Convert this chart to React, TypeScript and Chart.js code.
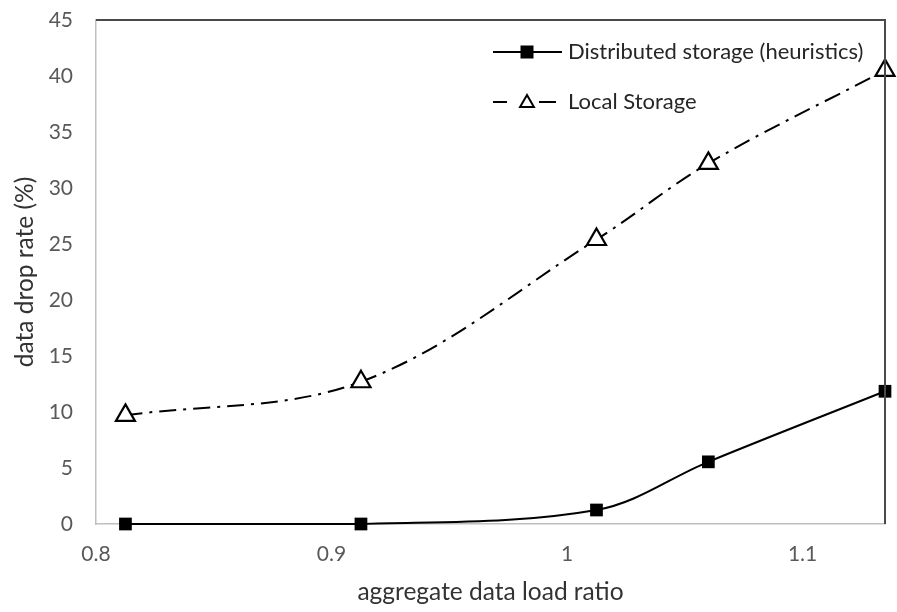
import React, { useEffect, useRef } from "react";
import { Chart, registerables } from "chart.js";

Chart.register(...registerables);

const loadRatio = [0.8125, 0.9125, 1.0125, 1.06, 1.135];
const distributedValues = [0, 0, 1.25, 5.55, 11.85];
const localValues = [9.7, 12.7, 25.4, 32.2, 40.5];
const xTicks = [0.8, 0.9, 1, 1.1];
const seriesNames = ["Distributed storage (heuristics)", "Local Storage"];

const FONT = "Lato, 'Open Sans', sans-serif";
const DASH = [17, 7, 3, 7];

const framePlugin = {
  id: "frame",
  afterDraw(chart: any) {
    const { ctx, chartArea } = chart;
    const { left, right, top, bottom } = chartArea;
    ctx.save();
    // top & right dark border
    ctx.strokeStyle = "#4a4a4a";
    ctx.lineWidth = 2;
    ctx.beginPath();
    ctx.moveTo(left, top);
    ctx.lineTo(right, top);
    ctx.lineTo(right, bottom);
    ctx.stroke();

    // legend
    const x0 = left + 397;
    const items = [
      { y: top + 32, text: seriesNames[0] },
      { y: top + 82, text: seriesNames[1] },
    ];
    ctx.strokeStyle = "#000";
    ctx.lineWidth = 2;
    // item 1: solid line + filled square
    ctx.beginPath();
    ctx.moveTo(x0, items[0].y);
    ctx.lineTo(x0 + 69, items[0].y);
    ctx.stroke();
    ctx.fillStyle = "#000";
    ctx.fillRect(x0 + 34 - 6.5, items[0].y - 6.5, 13, 13);
    // item 2: dash + triangle + dash
    ctx.beginPath();
    ctx.moveTo(x0, items[1].y);
    ctx.lineTo(x0 + 14, items[1].y);
    ctx.moveTo(x0 + 46, items[1].y);
    ctx.lineTo(x0 + 63, items[1].y);
    ctx.stroke();
    const tx = x0 + 34;
    const ty = items[1].y + 1;
    const r = 8;
    ctx.beginPath();
    ctx.moveTo(tx, ty - r);
    ctx.lineTo(tx + r * 0.866, ty + r * 0.5);
    ctx.lineTo(tx - r * 0.866, ty + r * 0.5);
    ctx.closePath();
    ctx.fillStyle = "#fff";
    ctx.fill();
    ctx.stroke();

    ctx.fillStyle = "#262626";
    ctx.font = `22px ${FONT}`;
    ctx.textAlign = "left";
    ctx.textBaseline = "middle";
    items.forEach((it) => ctx.fillText(it.text, x0 + 75, it.y));
    ctx.restore();
  },
};

export default function App() {
  const ref = useRef<HTMLCanvasElement | null>(null);

  useEffect(() => {
    document.body.style.margin = "0";
    const canvas = ref.current;
    if (!canvas) return;
    const chart = new Chart(canvas, {
      type: "line",
      data: {
        datasets: [
          {
            label: seriesNames[0],
            data: loadRatio.map((x, i) => ({ x, y: distributedValues[i] })),
            borderColor: "#000",
            borderWidth: 2,
            backgroundColor: "#000",
            pointStyle: "rect",
            pointRadius: 9,
            pointBorderWidth: 0,
            pointBackgroundColor: "#000",
            tension: 0.35,
            clip: false as any,
          },
          {
            label: seriesNames[1],
            data: loadRatio.map((x, i) => ({ x, y: localValues[i] })),
            borderColor: "#000",
            borderWidth: 2,
            borderDash: DASH,
            pointStyle: "triangle",
            pointRadius: 11,
            pointBorderWidth: 2.2,
            pointBorderColor: "#000",
            pointBackgroundColor: "#fff",
            tension: 0.35,
            clip: false as any,
          },
        ],
      },
      options: {
        animation: false,
        responsive: false,
        maintainAspectRatio: false,
        layout: { autoPadding: false, padding: { left: 0, top: 20, right: 12, bottom: 0 } },
        plugins: {
          legend: { display: false },
          tooltip: { enabled: false },
        },
        scales: {
          x: {
            type: "linear",
            min: 0.8,
            max: 1.135,
            afterBuildTicks: (scale: any) => {
              scale.ticks = xTicks.map((v) => ({ value: v }));
            },
            afterFit: (scale: any) => {
              scale.height = 88;
              scale.paddingLeft = 0;
              scale.paddingRight = 0;
            },
            grid: { display: false, drawTicks: false },
            border: { display: true, color: "#bfbfbf", width: 1.5 },
            ticks: {
              color: "#595959",
              font: { family: FONT, size: 21 },
              padding: 18,
              maxRotation: 0,
              callback: (v: any) => String(Number(v)),
            },
            title: {
              display: true,
              text: "aggregate data load ratio",
              color: "#333333",
              font: { family: FONT, size: 24.5 },
              padding: { top: 0, bottom: 5 },
            },
          },
          y: {
            min: 0,
            max: 45,
            ticks: {
              stepSize: 5,
              color: "#595959",
              font: { family: FONT, size: 21 },
              padding: 23,
            },
            afterFit: (scale: any) => {
              scale.width = 96;
              scale.paddingTop = 0;
              scale.paddingBottom = 0;
            },
            grid: { display: false, drawTicks: false },
            border: { display: true, color: "#bfbfbf", width: 1.5 },
            title: {
              display: true,
              text: "data drop rate (%)",
              color: "#333333",
              font: { family: FONT, size: 24.5 },
              padding: { top: 10, bottom: 0 },
            },
          },
        },
      },
      plugins: [framePlugin],
    });
    return () => chart.destroy();
  }, []);

  return (
    <canvas
      ref={ref}
      width={897}
      height={612}
      style={{ display: "block", width: 897, height: 612 }}
    />
  );
}
